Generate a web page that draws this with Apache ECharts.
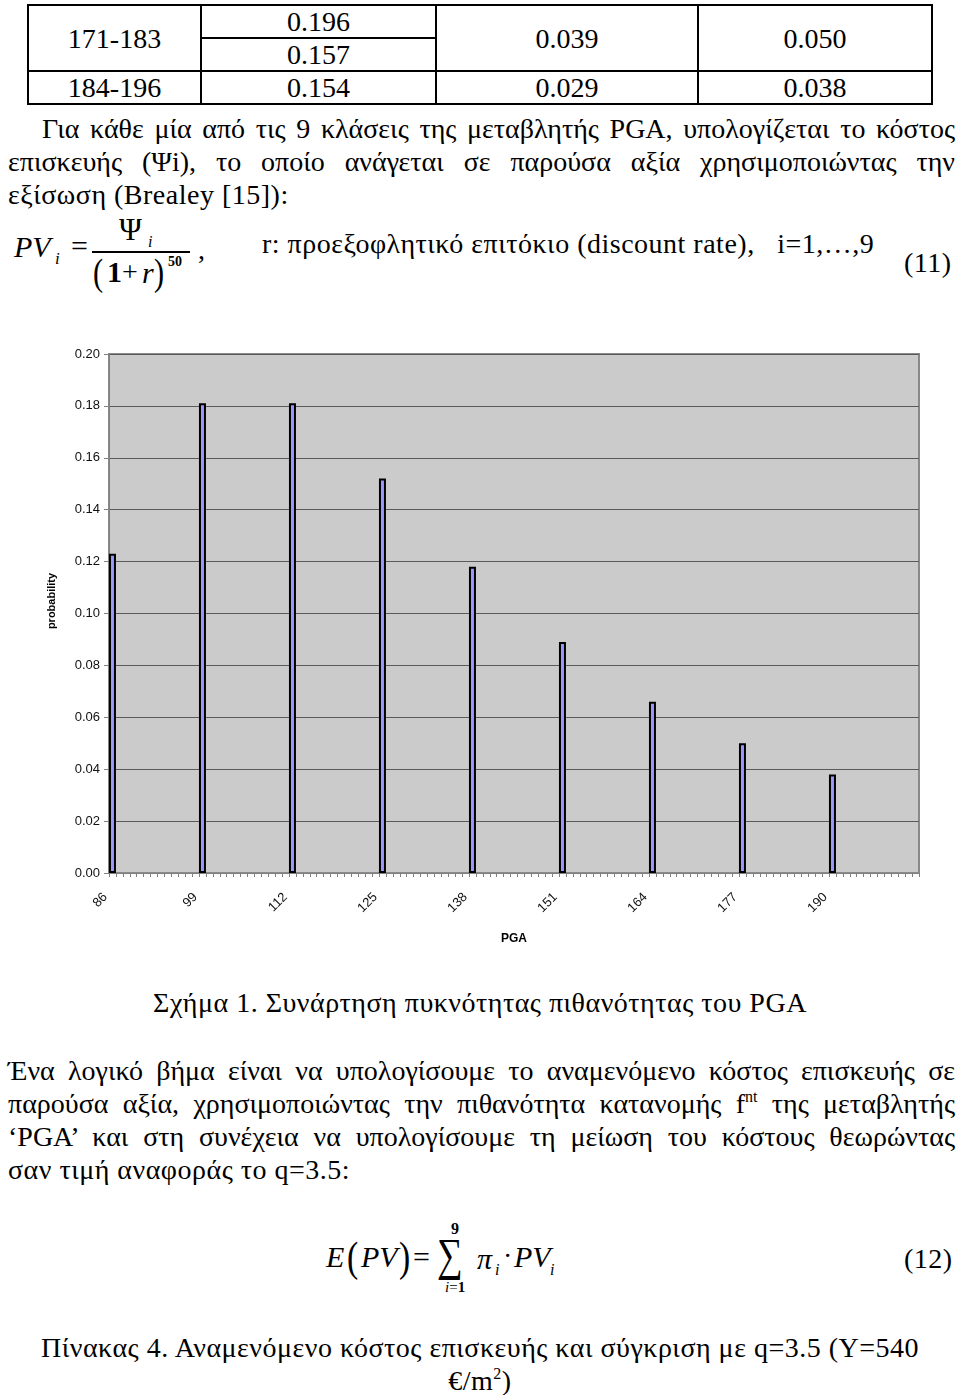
<!DOCTYPE html>
<html>
<head>
<meta charset="utf-8">
<script src="https://cdn.jsdelivr.net/npm/echarts@6/dist/echarts.min.js"></script>
<style>
html,body{margin:0;padding:0;background:#fff;}
body{width:960px;height:1395px;position:relative;overflow:hidden;font-family:"Liberation Serif","Times New Roman",serif;color:#000;}
.t{position:absolute;font-size:28px;line-height:33px;white-space:nowrap;letter-spacing:0.5px;}
.j{text-align:justify;text-align-last:justify;white-space:normal;letter-spacing:0;}
.c{text-align:center;}
.m{position:absolute;line-height:1;white-space:nowrap;font-family:"Liberation Serif","Times New Roman",serif;}
.i{font-style:italic;}
.b{font-weight:bold;}
#tbl{position:absolute;left:27px;top:4px;width:906px;border-collapse:collapse;font-size:28px;}
#tbl td{border:2px solid #000;text-align:center;height:31px;line-height:31px;padding:0;}
#chart{position:absolute;left:0;top:330px;width:960px;height:640px;}
sup.s{font-size:16px;vertical-align:top;line-height:1;position:relative;top:2px;}
</style>
</head>
<body>

<table id="tbl">
  <tr><td rowspan="2" style="width:171px">171-183</td><td style="width:233px">0.196</td><td rowspan="2" style="width:260px">0.039</td><td rowspan="2">0.050</td></tr>
  <tr><td>0.157</td></tr>
  <tr><td>184-196</td><td>0.154</td><td>0.029</td><td>0.038</td></tr>
</table>

<div class="t j" style="left:42px;width:913px;top:112px;">Για κάθε μία από τις 9 κλάσεις της μεταβλητής PGA, υπολογίζεται το κόστος</div>
<div class="t j" style="left:8px;width:947px;top:145px;">επισκευής (Ψi), το οποίο ανάγεται σε παρούσα αξία χρησιμοποιώντας την</div>
<div class="t" style="left:8px;top:178px;">εξίσωση (Brealey [15]):</div>

<!-- equation (11) -->
<span class="m i" style="left:14px;top:232px;font-size:30px;">PV</span>
<span class="m i" style="left:55px;top:250px;font-size:17px;">i</span>
<span class="m" style="left:71px;top:231px;font-size:30px;">=</span>
<span class="m" style="left:119px;top:214px;font-size:31px;">Ψ</span>
<span class="m i" style="left:148px;top:234px;font-size:16px;">i</span>
<div style="position:absolute;left:92px;top:251px;width:98px;height:2px;background:#000;"></div>
<span class="m" style="left:93px;top:253px;font-size:38px;transform:scaleX(0.8);transform-origin:left;">(</span>
<span class="m b" style="left:107px;top:257px;font-size:30px;">1</span>
<span class="m" style="left:122px;top:258px;font-size:28px;">+</span>
<span class="m i" style="left:142px;top:258px;font-size:30px;">r</span>
<span class="m" style="left:154px;top:253px;font-size:38px;transform:scaleX(0.8);transform-origin:left;">)</span>
<span class="m b" style="left:168px;top:255px;font-size:14px;">50</span>
<span class="m" style="left:198px;top:236px;font-size:28px;">,</span>
<div class="t" style="left:262px;top:227px;">r: προεξοφλητικό επιτόκιο (discount rate),&nbsp;&nbsp; i=1,…,9</div>
<div class="t" style="left:904px;top:246px;">(11)</div>

<div id="chart"></div>

<div class="t c" style="left:0;width:960px;top:986px;">Σχήμα 1. Συνάρτηση πυκνότητας πιθανότητας του PGA</div>

<div class="t j" style="left:8px;width:947px;top:1054px;">Ένα λογικό βήμα είναι να υπολογίσουμε το αναμενόμενο κόστος επισκευής σε</div>
<div class="t j" style="left:8px;width:947px;top:1087px;">παρούσα αξία, χρησιμοποιώντας την πιθανότητα κατανομής f<sup class="s">nt</sup> της μεταβλητής</div>
<div class="t j" style="left:8px;width:947px;top:1120px;">‘PGA’ και στη συνέχεια να υπολογίσουμε τη μείωση του κόστους θεωρώντας</div>
<div class="t" style="left:8px;top:1153px;">σαν τιμή αναφοράς το q=3.5:</div>

<!-- equation (12) -->
<span class="m i" style="left:326px;top:1242px;font-size:30px;">E</span>
<span class="m" style="left:347px;top:1236px;font-size:42px;transform:scaleX(0.8);transform-origin:left;">(</span>
<span class="m i" style="left:361px;top:1242px;font-size:30px;">PV</span>
<span class="m" style="left:399px;top:1236px;font-size:42px;transform:scaleX(0.8);transform-origin:left;">)</span>
<span class="m" style="left:413px;top:1242px;font-size:30px;">=</span>
<span class="m" style="left:437px;top:1232px;font-size:40px;transform:scale(0.9,1.15);transform-origin:left top;">∑</span>
<span class="m b" style="left:451px;top:1221px;font-size:16px;">9</span>
<span class="m" style="left:445px;top:1280px;font-size:15px;"><span class="i">i</span>=<b>1</b></span>
<span class="m i" style="left:477px;top:1244px;font-size:30px;">π</span>
<span class="m i" style="left:495px;top:1262px;font-size:16px;">i</span>
<span class="m" style="left:503px;top:1242px;font-size:28px;">·</span>
<span class="m i" style="left:514px;top:1242px;font-size:30px;">PV</span>
<span class="m i" style="left:550px;top:1262px;font-size:16px;">i</span>
<div class="t" style="left:904px;top:1242px;">(12)</div>

<div class="t c" style="left:0;width:960px;top:1331px;">Πίνακας 4. Αναμενόμενο κόστος επισκευής και σύγκριση με q=3.5 (Y=540</div>
<div class="t c" style="left:0;width:960px;top:1364px;">€/m<sup class="s">2</sup>)</div>

<script>
// ---- chart data ----
const pgaStart = 86;          // first PGA category on the axis
const pgaEnd = 202;           // last PGA category on the axis
const pgaClasses = [86, 99, 112, 125, 138, 151, 164, 177, 190];
const probability = [0.123, 0.181, 0.181, 0.152, 0.118, 0.089, 0.066, 0.050, 0.038];
const yMin = 0, yMax = 0.20, yStep = 0.02;

const categories = [];
for (let v = pgaStart; v <= pgaEnd; v++) categories.push(String(v));
const seriesData = categories.map(function (c) {
  const k = pgaClasses.indexOf(Number(c));
  return k >= 0 ? probability[k] : '-';
});

const chart = echarts.init(document.getElementById('chart'), null, {renderer: 'canvas'});
const sansFont = 'Liberation Sans, Arial, sans-serif';
chart.setOption({
  animation: false,
  grid: {
    left: 109, right: 41, top: 24, bottom: 97,
    show: true, backgroundColor: '#cbcbcb', borderColor: '#8a8a8a', borderWidth: 2
  },
  xAxis: {
    type: 'category',
    data: categories,
    boundaryGap: true,
    name: 'PGA',
    nameLocation: 'middle',
    nameGap: 60,
    nameTextStyle: {fontFamily: sansFont, fontWeight: 'bold', fontSize: 12, color: '#000'},
    axisLine: {show: true, lineStyle: {color: '#808080', width: 1}},
    axisTick: {show: true, interval: 0, length: 4, lineStyle: {color: '#808080'}},
    axisLabel: {interval: 12, rotate: 45, margin: 15, padding: [0, 10, 0, 0],
      fontFamily: sansFont, fontSize: 13, color: '#111'},
    splitLine: {show: false}
  },
  yAxis: {
    type: 'value',
    min: yMin, max: yMax, interval: yStep,
    name: 'probability',
    nameLocation: 'middle',
    nameGap: 52,
    nameTextStyle: {fontFamily: sansFont, fontWeight: 'bold', fontSize: 11, color: '#000', padding: [0, 0, 0, 25]},
    axisLine: {show: true, lineStyle: {color: '#808080', width: 1}},
    axisTick: {show: true, length: 5, lineStyle: {color: '#808080'}},
    axisLabel: {formatter: function (v) { return v.toFixed(2); },
      fontFamily: sansFont, fontSize: 13, color: '#111', margin: 9},
    splitLine: {show: true, lineStyle: {color: '#5a5a5a', width: 1}}
  },
  series: [{
    type: 'bar',
    data: seriesData,
    barWidth: 7,
    itemStyle: {color: '#9999ff', borderColor: '#000', borderWidth: 2}
  }]
});
</script>
</body>
</html>
